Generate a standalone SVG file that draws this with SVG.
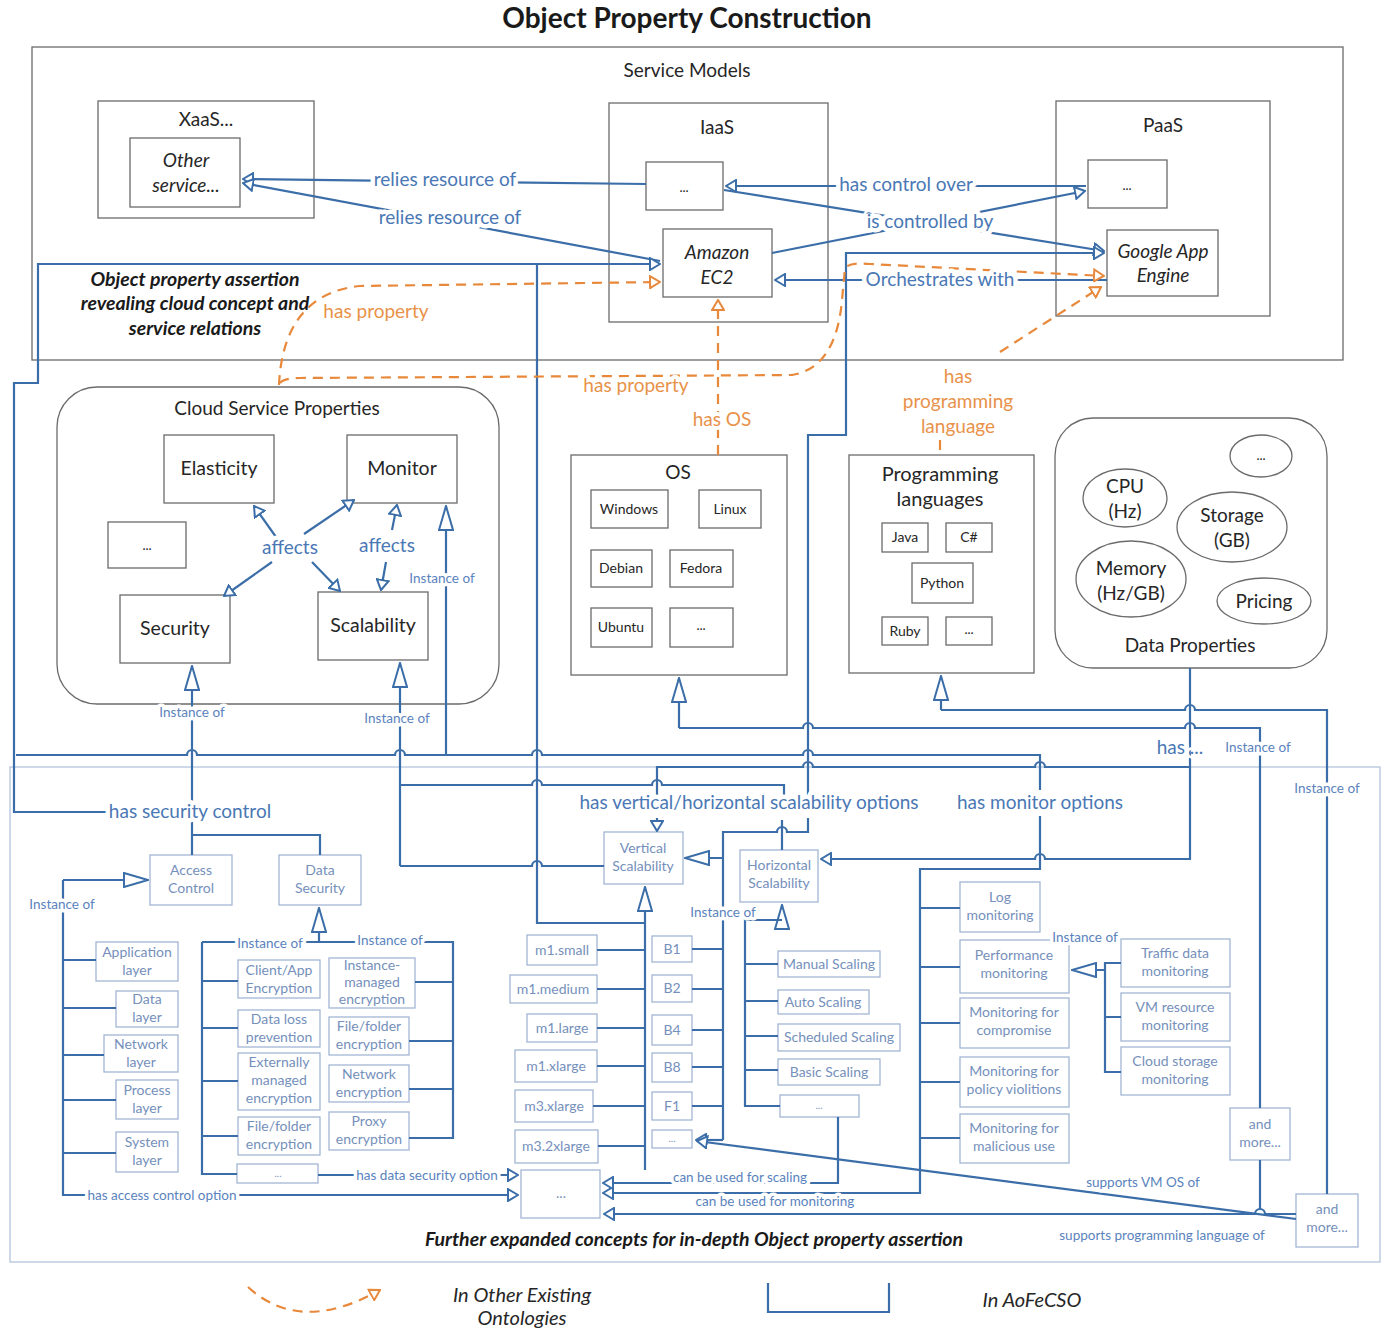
<svg xmlns="http://www.w3.org/2000/svg" width="1392" height="1328" viewBox="0 0 1392 1328">
<style>
text{font-family:Lato,"Liberation Sans","Noto Sans",sans-serif;text-anchor:middle}
.t{fill:#262626;font-size:19px}
.ti{fill:#262626;font-size:19px;font-style:italic}
.bi{fill:#1a1a1a;font-size:19.5px;font-style:italic;font-weight:bold}
.frame{fill:none;stroke:#6b6b6b;stroke-width:1.3}
.box{fill:#fff;stroke:#6b6b6b;stroke-width:1.3}
.bb{fill:#fff;stroke:#a3b6d3;stroke-width:1.3}
.bt{fill:#7590bb;font-size:14px}
.sm{font-size:14px}
.c{fill:none;stroke:#3b6ea8;stroke-width:2.2}
.o{fill:none;stroke:#e8883a;stroke-width:2.2;stroke-dasharray:10 7}
.lb{fill:#4a78b5;font-size:19px;stroke:#fff;stroke-width:9;paint-order:stroke;stroke-linejoin:round}
.ls{fill:#5a83bd;font-size:13.5px;stroke:#fff;stroke-width:7;paint-order:stroke;stroke-linejoin:round}
.ol{fill:#e8924a;font-size:19px;stroke:#fff;stroke-width:8;paint-order:stroke;stroke-linejoin:round}
</style>
<defs>
<marker id="big" viewBox="0 0 26 16" refX="25" refY="8" markerWidth="26" markerHeight="16" orient="auto" markerUnits="userSpaceOnUse"><path d="M1,1 L25,8 L1,15 z" fill="#fff" stroke="#3b6ea8" stroke-width="2"/></marker>
<marker id="sm" viewBox="0 0 12 14" refX="11" refY="7" markerWidth="12" markerHeight="14" orient="auto" markerUnits="userSpaceOnUse"><path d="M1,1 L11,7 L1,13 z" fill="#fff" stroke="#3b6ea8" stroke-width="2"/></marker>
<marker id="oa" viewBox="0 0 12 14" refX="11" refY="7" markerWidth="12" markerHeight="14" orient="auto" markerUnits="userSpaceOnUse"><path d="M1,1 L11,7 L1,13 z" fill="#fff" stroke="#e8883a" stroke-width="2"/></marker>
</defs>
<rect width="1392" height="1328" fill="#fff"/>
<text x="687" y="28" style="font-size:28px;font-weight:bold;fill:#1a1a1a">Object Property Construction</text>

<!-- containers -->
<g id="service-models"><rect x="32" y="47" width="1311" height="313" class="frame"/><text class="t" x="687" y="77">Service Models</text></g>
<g id="further-expanded"><rect x="10" y="767" width="1370" height="495" fill="none" stroke="#b3c4dc" stroke-width="1.3"/><text class="bi" x="694" y="1246">Further expanded concepts for in-depth Object property assertion</text></g>
<g id="assertion-note"><text class="bi" x="195" y="286">Object property assertion</text><text class="bi" x="195" y="310">revealing cloud concept and</text><text class="bi" x="195" y="335">service relations</text></g>

<!-- nodes -->
<g id="xaas"><rect x="98" y="101" width="216" height="117" class="box"/><text class="t" x="206" y="126">XaaS...</text></g>
<g id="other-service"><rect x="130" y="138" width="110" height="69" class="box"/><text class="ti" x="186" y="167">Other</text><text class="ti" x="186" y="192">service...</text></g>
<g id="iaas"><rect x="609" y="103" width="219" height="219" class="box"/><text class="t" x="717" y="134">IaaS</text></g>
<g id="iaas-more"><rect x="646" y="162" width="77" height="48" class="box"/><text class="t" x="684" y="192" style="font-size:13px">...</text></g>
<g id="ec2"><rect x="663" y="229" width="109" height="68" class="box"/><text class="ti" x="717" y="259">Amazon</text><text class="ti" x="717" y="284">EC2</text></g>
<g id="paas"><rect x="1056" y="101" width="214" height="215" class="box"/><text class="t" x="1163" y="132">PaaS</text></g>
<g id="paas-more"><rect x="1088" y="160" width="79" height="48" class="box"/><text class="t" x="1127" y="190" style="font-size:13px">...</text></g>
<g id="gae"><rect x="1107" y="230" width="111" height="66" class="box"/><text class="ti" x="1163" y="258">Google App</text><text class="ti" x="1163" y="282">Engine</text></g>

<g id="cloud-service-properties"><rect x="57" y="387" width="442" height="317" rx="40" class="frame"/><text class="t" x="277" y="415">Cloud Service Properties</text></g>
<g id="elasticity"><rect x="164" y="435" width="110" height="68" class="box"/><text class="t" x="219" y="475" style="font-size:19.5px">Elasticity</text></g>
<g id="monitor"><rect x="347" y="435" width="110" height="68" class="box"/><text class="t" x="402" y="475" style="font-size:19.5px">Monitor</text></g>
<g id="csp-more"><rect x="108" y="522" width="78" height="46" class="box"/><text class="t" x="147" y="550" style="font-size:13px">...</text></g>
<g id="security"><rect x="120" y="595" width="110" height="68" class="box"/><text class="t" x="175" y="635" style="font-size:19.5px">Security</text></g>
<g id="scalability"><rect x="318" y="592" width="110" height="68" class="box"/><text class="t" x="373" y="632" style="font-size:19.5px">Scalability</text></g>

<g id="os"><rect x="571" y="455" width="216" height="220" class="box"/><text class="t" x="678" y="479">OS</text></g>
<g id="windows"><rect x="591" y="490" width="77" height="38" class="box"/><text class="t sm" x="629" y="514">Windows</text></g>
<g id="linux"><rect x="699" y="490" width="62" height="38" class="box"/><text class="t sm" x="730" y="514">Linux</text></g>
<g id="debian"><rect x="591" y="550" width="61" height="37" class="box"/><text class="t sm" x="621" y="573">Debian</text></g>
<g id="fedora"><rect x="670" y="550" width="63" height="37" class="box"/><text class="t sm" x="701" y="573">Fedora</text></g>
<g id="ubuntu"><rect x="591" y="608" width="61" height="39" class="box"/><text class="t sm" x="621" y="632">Ubuntu</text></g>
<g id="os-more"><rect x="670" y="608" width="63" height="39" class="box"/><text class="t" x="701" y="630" style="font-size:13px">...</text></g>

<g id="programming-languages"><rect x="849" y="455" width="185" height="218" class="box"/><text class="t" x="940" y="481" style="font-size:20px">Programming</text><text class="t" x="940" y="506" style="font-size:20px">languages</text></g>
<g id="java"><rect x="882" y="523" width="46" height="29" class="box"/><text class="t sm" x="905" y="542">Java</text></g>
<g id="csharp"><rect x="946" y="523" width="46" height="29" class="box"/><text class="t sm" x="969" y="542">C#</text></g>
<g id="python"><rect x="912" y="563" width="61" height="40" class="box"/><text class="t sm" x="942" y="588">Python</text></g>
<g id="ruby"><rect x="882" y="617" width="46" height="28" class="box"/><text class="t sm" x="905" y="636">Ruby</text></g>
<g id="pl-more"><rect x="946" y="617" width="46" height="28" class="box"/><text class="t" x="969" y="634" style="font-size:13px">...</text></g>

<g id="data-properties"><rect x="1055" y="418" width="272" height="250" rx="38" class="box"/><text class="t" x="1190" y="652">Data Properties</text></g>
<g id="dp-more"><ellipse cx="1261" cy="456" rx="31" ry="21" class="box"/><text class="t" x="1261" y="460" style="font-size:13px">...</text></g>
<g id="cpu"><ellipse cx="1125" cy="498" rx="42" ry="29" class="box"/><text class="t" x="1125" y="493">CPU</text><text class="t" x="1125" y="518">(Hz)</text></g>
<g id="storage"><ellipse cx="1232" cy="527" rx="55" ry="35" class="box"/><text class="t" x="1232" y="522">Storage</text><text class="t" x="1232" y="547">(GB)</text></g>
<g id="memory"><ellipse cx="1131" cy="579" rx="55" ry="38" class="box"/><text class="t" x="1131" y="575">Memory</text><text class="t" x="1131" y="600">(Hz/GB)</text></g>
<g id="pricing"><ellipse cx="1264" cy="601" rx="47" ry="23" class="box"/><text class="t" x="1264" y="608">Pricing</text></g>

<g id="access-control"><rect x="150" y="855" width="82" height="50" class="bb"/><text class="bt" x="191" y="875">Access</text><text class="bt" x="191" y="893">Control</text></g>
<g id="data-security"><rect x="279" y="855" width="82" height="50" class="bb"/><text class="bt" x="320" y="875">Data</text><text class="bt" x="320" y="893">Security</text></g>
<g id="application-layer"><rect x="96" y="942" width="82" height="39" class="bb"/><text class="bt" x="137" y="957">Application</text><text class="bt" x="137" y="975">layer</text></g>
<g id="data-layer"><rect x="116" y="991" width="62" height="36" class="bb"/><text class="bt" x="147" y="1004">Data</text><text class="bt" x="147" y="1022">layer</text></g>
<g id="network-layer"><rect x="104" y="1035" width="74" height="37" class="bb"/><text class="bt" x="141" y="1049">Network</text><text class="bt" x="141" y="1067">layer</text></g>
<g id="process-layer"><rect x="116" y="1080" width="62" height="39" class="bb"/><text class="bt" x="147" y="1095">Process</text><text class="bt" x="147" y="1113">layer</text></g>
<g id="system-layer"><rect x="116" y="1132" width="62" height="40" class="bb"/><text class="bt" x="147" y="1147">System</text><text class="bt" x="147" y="1165">layer</text></g>
<g id="client-app-encryption"><rect x="238" y="960" width="82" height="38" class="bb"/><text class="bt" x="279" y="975">Client/App</text><text class="bt" x="279" y="993">Encryption</text></g>
<g id="data-loss-prevention"><rect x="238" y="1010" width="82" height="37" class="bb"/><text class="bt" x="279" y="1024">Data loss</text><text class="bt" x="279" y="1042">prevention</text></g>
<g id="externally-managed"><rect x="238" y="1053" width="82" height="57" class="bb"/><text class="bt" x="279" y="1067">Externally</text><text class="bt" x="279" y="1085">managed</text><text class="bt" x="279" y="1103">encryption</text></g>
<g id="file-folder-enc-l"><rect x="238" y="1117" width="82" height="38" class="bb"/><text class="bt" x="279" y="1131">File/folder</text><text class="bt" x="279" y="1149">encryption</text></g>
<g id="ds-more"><rect x="237" y="1164" width="81" height="19" class="bb"/><text class="bt" x="278" y="1177" style="font-size:10px">...</text></g>
<g id="instance-managed"><rect x="329" y="958" width="86" height="50" class="bb"/><text class="bt" x="372" y="970">Instance-</text><text class="bt" x="372" y="987">managed</text><text class="bt" x="372" y="1004">encryption</text></g>
<g id="file-folder-enc-r"><rect x="329" y="1017" width="80" height="38" class="bb"/><text class="bt" x="369" y="1031">File/folder</text><text class="bt" x="369" y="1049">encryption</text></g>
<g id="network-encryption"><rect x="329" y="1065" width="80" height="37" class="bb"/><text class="bt" x="369" y="1079">Network</text><text class="bt" x="369" y="1097">encryption</text></g>
<g id="proxy-encryption"><rect x="329" y="1112" width="80" height="38" class="bb"/><text class="bt" x="369" y="1126">Proxy</text><text class="bt" x="369" y="1144">encryption</text></g>

<g id="main-more"><rect x="521" y="1170" width="79" height="48" class="bb"/><text class="bt" x="561" y="1198">...</text></g>
<g id="vertical-scalability"><rect x="604" y="832" width="79" height="52" class="bb"/><text class="bt" x="643" y="853">Vertical</text><text class="bt" x="643" y="871">Scalability</text></g>
<g id="horizontal-scalability"><rect x="740" y="850" width="78" height="52" class="bb"/><text class="bt" x="779" y="870">Horizontal</text><text class="bt" x="779" y="888">Scalability</text></g>
<g id="m1-small"><rect x="527" y="935" width="70" height="30" class="bb"/><text class="bt" x="562" y="955">m1.small</text></g>
<g id="m1-medium"><rect x="510" y="975" width="87" height="28" class="bb"/><text class="bt" x="553" y="994">m1.medium</text></g>
<g id="m1-large"><rect x="527" y="1014" width="70" height="28" class="bb"/><text class="bt" x="562" y="1033">m1.large</text></g>
<g id="m1-xlarge"><rect x="515" y="1050" width="82" height="32" class="bb"/><text class="bt" x="556" y="1071">m1.xlarge</text></g>
<g id="m3-xlarge"><rect x="515" y="1090" width="78" height="32" class="bb"/><text class="bt" x="554" y="1111">m3.xlarge</text></g>
<g id="m3-2xlarge"><rect x="515" y="1130" width="83" height="33" class="bb"/><text class="bt" x="556" y="1151">m3.2xlarge</text></g>
<g id="b1"><rect x="652" y="936" width="40" height="26" class="bb"/><text class="bt" x="672" y="954">B1</text></g>
<g id="b2"><rect x="652" y="975" width="40" height="27" class="bb"/><text class="bt" x="672" y="993">B2</text></g>
<g id="b4"><rect x="652" y="1015" width="40" height="30" class="bb"/><text class="bt" x="672" y="1035">B4</text></g>
<g id="b8"><rect x="652" y="1053" width="40" height="29" class="bb"/><text class="bt" x="672" y="1072">B8</text></g>
<g id="f1"><rect x="652" y="1092" width="40" height="28" class="bb"/><text class="bt" x="672" y="1111">F1</text></g>
<g id="b-more"><rect x="652" y="1130" width="40" height="18" class="bb"/><text class="bt" x="672" y="1142" style="font-size:10px">...</text></g>
<g id="manual-scaling"><rect x="778" y="951" width="102" height="26" class="bb"/><text class="bt" x="829" y="969">Manual Scaling</text></g>
<g id="auto-scaling"><rect x="778" y="990" width="91" height="24" class="bb"/><text class="bt" x="823" y="1007">Auto Scaling</text></g>
<g id="scheduled-scaling"><rect x="778" y="1024" width="122" height="27" class="bb"/><text class="bt" x="839" y="1042">Scheduled Scaling</text></g>
<g id="basic-scaling"><rect x="778" y="1059" width="102" height="26" class="bb"/><text class="bt" x="829" y="1077">Basic Scaling</text></g>
<g id="hs-more"><rect x="780" y="1095" width="79" height="22" class="bb"/><text class="bt" x="819" y="1109" style="font-size:10px">...</text></g>

<g id="log-monitoring"><rect x="960" y="882" width="80" height="50" class="bb"/><text class="bt" x="1000" y="902">Log</text><text class="bt" x="1000" y="920">monitoring</text></g>
<g id="performance-monitoring"><rect x="960" y="940" width="109" height="53" class="bb"/><text class="bt" x="1014" y="960">Performance</text><text class="bt" x="1014" y="978">monitoring</text></g>
<g id="monitoring-compromise"><rect x="960" y="998" width="109" height="50" class="bb"/><text class="bt" x="1014" y="1017">Monitoring for</text><text class="bt" x="1014" y="1035">compromise</text></g>
<g id="monitoring-policy"><rect x="960" y="1057" width="109" height="50" class="bb"/><text class="bt" x="1014" y="1076">Monitoring for</text><text class="bt" x="1014" y="1094">policy violitions</text></g>
<g id="monitoring-malicious"><rect x="960" y="1114" width="109" height="49" class="bb"/><text class="bt" x="1014" y="1133">Monitoring for</text><text class="bt" x="1014" y="1151">malicious use</text></g>
<g id="traffic-monitoring"><rect x="1121" y="939" width="109" height="48" class="bb"/><text class="bt" x="1175" y="958">Traffic data</text><text class="bt" x="1175" y="976">monitoring</text></g>
<g id="vm-monitoring"><rect x="1121" y="993" width="109" height="48" class="bb"/><text class="bt" x="1175" y="1012">VM resource</text><text class="bt" x="1175" y="1030">monitoring</text></g>
<g id="storage-monitoring"><rect x="1121" y="1047" width="109" height="48" class="bb"/><text class="bt" x="1175" y="1066">Cloud storage</text><text class="bt" x="1175" y="1084">monitoring</text></g>
<g id="and-more-os"><rect x="1230" y="1108" width="60" height="52" class="bb"/><text class="bt" x="1260" y="1129">and</text><text class="bt" x="1260" y="1147">more...</text></g>
<g id="and-more-pl"><rect x="1296" y="1194" width="62" height="53" class="bb"/><text class="bt" x="1327" y="1214">and</text><text class="bt" x="1327" y="1232">more...</text></g>

<!-- connectors -->
<g id="connectors">
<path class="c" d="M646,184 L243,179" marker-end="url(#sm)"/>
<path class="c" d="M660,261 L243,183" marker-end="url(#sm)"/>
<path class="c" d="M1086,186 H726" marker-end="url(#sm)"/>
<path class="c" d="M772,253 L1085,191" marker-end="url(#sm)"/>
<path class="c" d="M724,190 L1104,251" marker-end="url(#sm)"/>
<path class="c" d="M1107,280 H775" marker-end="url(#sm)"/>
<path class="c" d="M108,812 H14 V383 H38 V264 H660" marker-end="url(#sm)"/>
<path class="c" d="M537,264 V923 H645"/>
<path class="c" d="M192,835 V666" marker-end="url(#big)"/>
<path class="c" d="M192,835 H320 V855 M192,835 V855"/>
<path class="c" d="M400,866 V663" marker-end="url(#big)"/>
<path class="c" d="M400,785 H532 a5,5 0 0 1 10,0 H652 a5,5 0 0 1 10,0 H784 V797 M782,820 V850"/>
<path class="c" d="M400,866 H532 a5,5 0 0 1 10,0 H604"/>
<path class="c" d="M446,755 V506" marker-end="url(#big)"/>
<path class="c" d="M16,755 H187 a5,5 0 0 1 10,0 H395 a5,5 0 0 1 10,0 H532 a5,5 0 0 1 10,0 H803 a5,5 0 0 1 10,0 H1040 V790"/>
<path class="c" d="M1040,816 V869 H920 V1193 H603" marker-end="url(#sm)"/>
<path class="c" d="M808,797 V435 H846 V253 H1104" marker-end="url(#sm)"/>
<path class="c" d="M723,1140 V832 H777 a5,5 0 0 1 10,0 H808 V818"/>
<path class="c" d="M723,1140 H696" marker-end="url(#sm)"/>
<path class="c" d="M723,858 H685" marker-end="url(#big)"/>
<path class="c" d="M692,949 H723 M692,989 H723 M692,1030 H723 M692,1067 H723 M692,1106 H723"/>
<path class="c" d="M645,1170 V887" marker-end="url(#big)"/>
<path class="c" d="M597,950 H645 M597,989 H645 M597,1028 H645 M597,1066 H645 M593,1106 H645 M598,1146 H645"/>
<path class="c" d="M657,797 V767 H803 a5,5 0 0 1 10,0 H1035 a5,5 0 0 1 10,0 H1190"/>
<path class="c" d="M657,818 V831" marker-end="url(#sm)"/>
<path class="c" d="M1190,668 V859 H1045 a5,5 0 0 0 -10,0 H821" marker-end="url(#sm)"/>
<path class="c" d="M679,728 V678" marker-end="url(#big)"/>
<path class="c" d="M679,728 H803 a5,5 0 0 1 10,0 H1185 a5,5 0 0 1 10,0 H1260 V1108 M1260,1160 V1210"/>
<path class="c" d="M941,710 V676" marker-end="url(#big)"/>
<path class="c" d="M941,710 H1185 a5,5 0 0 1 10,0 H1327 V1194"/>
<path class="c" d="M782,920 V905" marker-end="url(#big)"/>
<path class="c" d="M782,920 H745 V1106 H780 M745,964 H778 M745,1001 H778 M745,1036 H778 M745,1070 H778"/>
<path class="c" d="M838,1117 V1183 H603" marker-end="url(#sm)"/>
<path class="c" d="M920,908 H960 M920,967 H960 M920,1023 H960 M920,1082 H960 M920,1138 H960"/>
<path class="c" d="M1121,963 H1105 V1072 H1121 M1105,1017 H1121"/>
<path class="c" d="M1105,970 H1072" marker-end="url(#big)"/>
<path class="c" d="M1296,1219 L697,1141" marker-end="url(#sm)"/>
<path class="c" d="M1296,1214 H1265 a5,5 0 0 0 -10,0 H604" marker-end="url(#sm)"/>
<path class="c" d="M63,880 H148" marker-end="url(#big)"/>
<path class="c" d="M63,880 V1195 H518" marker-end="url(#sm)"/>
<path class="c" d="M63,960 H96 M63,1008 H116 M63,1055 H104 M63,1100 H116 M63,1153 H116"/>
<path class="c" d="M319,942 V908" marker-end="url(#big)"/>
<path class="c" d="M202,942 H453 V1138 H409 M202,942 V1174 H237 M202,981 H238 M202,1028 H238 M202,1081 H238 M202,1136 H238 M415,982 H453 M409,1041 H453 M409,1089 H453"/>
<path class="c" d="M318,1175 H518" marker-end="url(#sm)"/>
<path class="c" d="M276,537 L254,506" marker-end="url(#sm)"/>
<path class="c" d="M304,534 L354,500" marker-end="url(#sm)"/>
<path class="c" d="M272,562 L224,596" marker-end="url(#sm)"/>
<path class="c" d="M312,562 L340,591" marker-end="url(#sm)"/>
<path class="c" d="M392,530 L397,505" marker-end="url(#sm)"/>
<path class="c" d="M386,562 L381,590" marker-end="url(#sm)"/>
<path class="o" d="M279,385 C281,340 298,292 360,286 L660,282" marker-end="url(#oa)"/>
<path class="o" d="M280,383 Q284,378 300,378 L792,375 Q836,368 842,300 L845,268 Q850,262 870,264 L1104,276" marker-end="url(#oa)"/>
<path class="o" d="M718,455 V300" marker-end="url(#oa)"/>
<path class="o" d="M1000,352 L1101,287" marker-end="url(#oa)"/>
<path class="o" d="M940,440 V455"/>
</g>

<!-- connector labels -->
<g id="labels">
<text class="lb" x="445" y="186">relies resource of</text>
<text class="lb" x="450" y="224">relies resource of</text>
<text class="lb" x="906" y="191">has control over</text>
<text class="lb" x="930" y="228">is controlled by</text>
<text class="lb" x="940" y="286">Orchestrates with</text>
<text class="ol" x="376" y="318">has property</text>
<text class="ol" x="636" y="392">has property</text>
<text class="ol" x="722" y="426">has OS</text>
<text class="ol" x="958" y="383">has</text>
<text class="ol" x="958" y="408">programming</text>
<text class="ol" x="958" y="433">language</text>
<text class="lb" x="290" y="554">affects</text>
<text class="lb" x="387" y="552">affects</text>
<text class="ls" x="442" y="583">Instance of</text>
<text class="ls" x="192" y="717">Instance of</text>
<text class="ls" x="397" y="723">Instance of</text>
<text class="lb" x="1180" y="754">has ...</text>
<text class="ls" x="1258" y="752">Instance of</text>
<text class="ls" x="1327" y="793">Instance of</text>
<text class="lb" x="190" y="818">has security control</text>
<text class="lb" x="749" y="809">has vertical/horizontal scalability options</text>
<text class="lb" x="1040" y="809">has monitor options</text>
<text class="ls" x="62" y="909">Instance of</text>
<text class="ls" x="270" y="948">Instance of</text>
<text class="ls" x="390" y="945">Instance of</text>
<text class="ls" x="723" y="917">Instance of</text>
<text class="ls" x="1085" y="942">Instance of</text>
<text class="ls" x="427" y="1180">has data security option</text>
<text class="ls" x="162" y="1200">has access control option</text>
<text class="ls" x="740" y="1182">can be used for scaling</text>
<text class="ls" x="775" y="1206">can be used for monitoring</text>
<text class="ls" x="1143" y="1187">supports VM OS of</text>
<text class="ls" x="1162" y="1240">supports programming language of</text>
</g>

<!-- legend -->
<g id="legend">
<path class="o" d="M248,1287 Q300,1335 380,1290" marker-end="url(#oa)"/>
<text class="ti" x="522" y="1302" style="font-size:20px">In Other Existing</text>
<text class="ti" x="522" y="1325" style="font-size:20px">Ontologies</text>
<path class="c" d="M768,1283 V1312 H889 V1283"/>
<text class="ti" x="1032" y="1307" style="font-size:20px">In AoFeCSO</text>
</g>
</svg>
